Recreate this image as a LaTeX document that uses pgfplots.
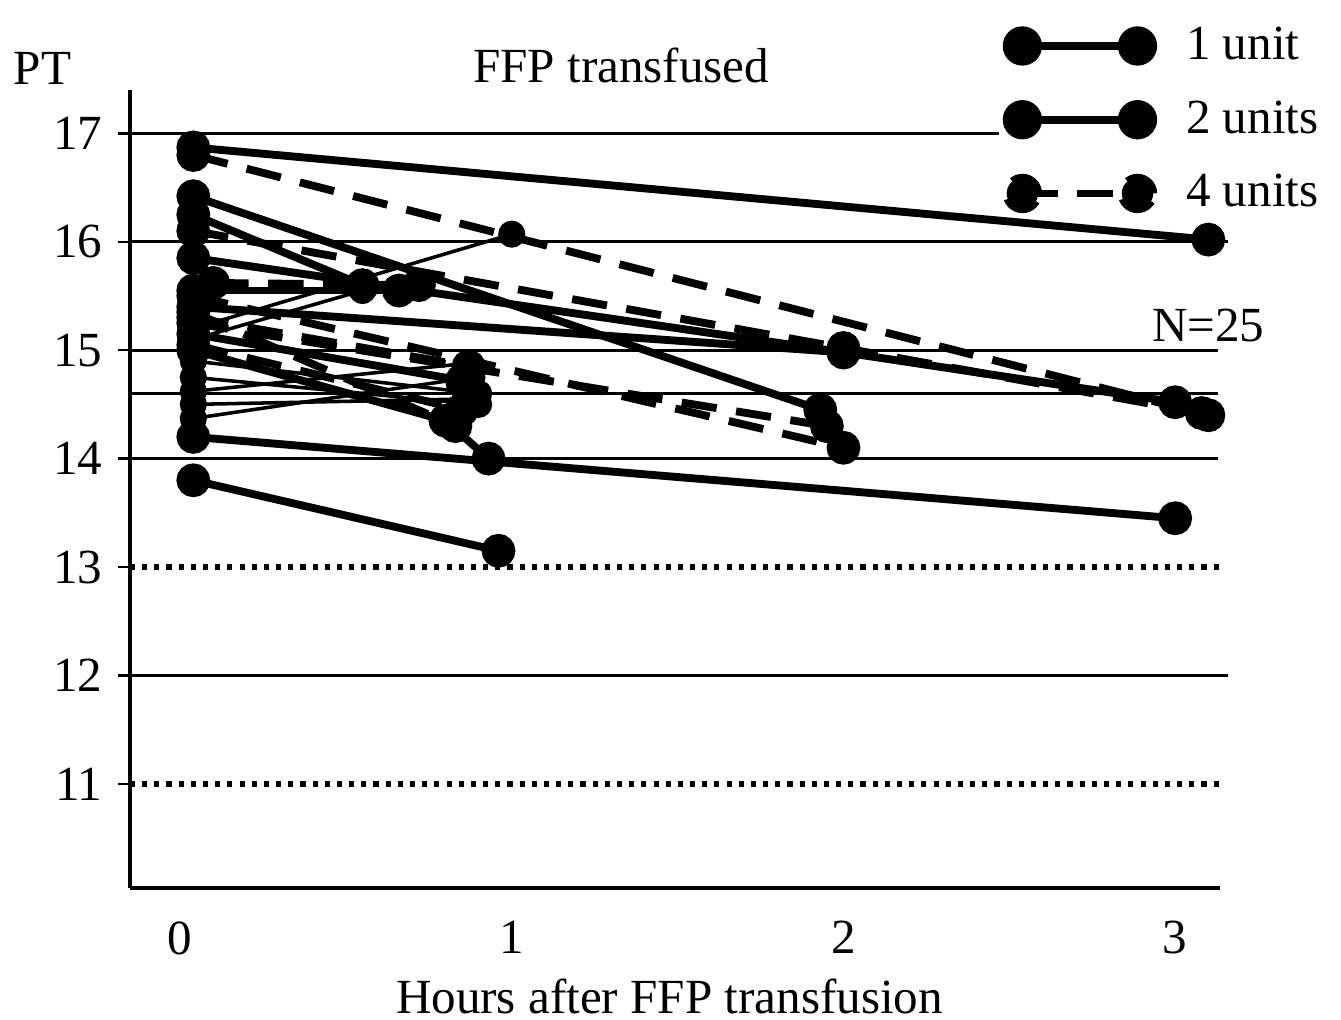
\documentclass[border=0pt]{standalone}
\usepackage{pgfplots}
\pgfplotsset{compat=1.18}
\usepackage{fontspec}
\setmainfont{Liberation Serif}

\pgfplotsset{
  solidthick/.style={black, line width=2pt, mark=*, mark size=3.3pt},
  solidthin/.style={black, line width=0.9pt, mark=*, mark size=3pt},
  dashthick/.style={black, line width=2pt, dash pattern=on 9pt off 5pt, mark=*, mark size=3.3pt, mark options={solid}},
}

\begin{document}
\begin{tikzpicture}
\path[use as bounding box] (-1.163,-1.181) rectangle (10.837,7.946);
\begin{axis}[
    scale only axis,
    width=9.754cm, height=7.141cm,
    xmin=-0.151, xmax=3.135,
    ymin=10.04, ymax=17.4,
    axis x line=bottom, axis y line=left,
    axis line style={black, line width=0.8pt, -},
    xtick={0,1,2,3}, ytick={11,12,13,14,15,16,17},
    x tick style={draw=none},
    y tick style={black, line width=0.6pt},
    major tick length=3pt,
    tick align=outside,
    /pgf/number format/assume math mode=true,
    tick label style={font=\fontsize{12.5}{14}\selectfont},
    xticklabel style={yshift=-2pt},
    yticklabel style={xshift=-0.5pt},
    xlabel={Hours after FFP transfusion},
    xlabel style={font=\fontsize{12.5}{14}\selectfont, at={(axis description cs:0.495,-0.136)}, anchor=center},
    clip=false,
    legend style={draw=none, fill=none, at={(rel axis cs:0.80,1.09)}, anchor=north west,
                  font=\fontsize{12.5}{14}\selectfont, row sep=5pt, inner sep=0pt},
    legend cell align=left,
    legend image code/.code={
      \draw[#1, mark=none] (0cm,0cm) -- (1.03cm,0cm);
      \fill[black] (0cm,0cm) circle (4pt);
      \fill[black] (1.03cm,0cm) circle (4pt);
      \path (1.36cm,0cm);
    },
]
% reference lines
\draw[black, line width=0.7pt] (axis cs:-0.151,17) -- (axis cs:2.47,17);
\draw[black, line width=0.7pt] (axis cs:-0.151,16) -- (axis cs:3.16,16);
\draw[black, line width=0.7pt] (axis cs:-0.151,15) -- (axis cs:3.13,15);
\draw[black, line width=0.7pt] (axis cs:-0.151,14.6) -- (axis cs:3.13,14.6);
\draw[black, line width=0.7pt] (axis cs:-0.151,14) -- (axis cs:3.13,14);
\draw[black, line width=0.7pt] (axis cs:-0.151,12) -- (axis cs:3.16,12);
\draw[black, line width=1.4pt, dash pattern=on 1.3pt off 1.8pt] (axis cs:-0.151,13) -- (axis cs:3.15,13);
\draw[black, line width=1.4pt, dash pattern=on 1.3pt off 1.8pt] (axis cs:-0.151,11) -- (axis cs:3.15,11);

\addlegendimage{solidthick}
\addlegendentry{1 unit}
\addlegendimage{solidthick}
\addlegendentry{2 units}
\addlegendimage{dashthick}
\addlegendentry{4 units}

% patients
\addplot[solidthick] coordinates {(0.04,16.87) (3.1,16.02)};
\addplot[dashthick]  coordinates {(0.04,16.8) (3.1,14.4)};
\addplot[solidthick] coordinates {(0.04,16.42) (1.93,14.45)};
\addplot[solidthick] coordinates {(0.04,15.85) (2.0,14.98) (3.0,14.52)};
\addplot[dashthick]  coordinates {(0.04,16.1) (2.0,15.02) (3.08,14.42)};
\addplot[solidthin]  coordinates {(0.04,15.2) (1.0,16.07)};
\addplot[solidthin]  coordinates {(0.04,15.1) (0.55,15.55)};
\addplot[solidthick] coordinates {(0.04,15.4) (2.0,14.98)};
\addplot[dashthick]  coordinates {(0.04,15.5) (2.0,14.1)};
\addplot[dashthick]  coordinates {(0.04,15.25) (1.95,14.3)};
\addplot[dashthick]  coordinates {(0.04,15.3) (0.87,14.85)};
\addplot[dashthick]  coordinates {(0.04,15.35) (0.83,14.3)};
\addplot[solidthick] coordinates {(0.04,15.0) (0.8,14.35) (0.93,14.0)};
\addplot[solidthin]  coordinates {(0.04,14.62) (0.87,14.88)};
\addplot[solidthin]  coordinates {(0.04,14.5) (0.86,14.55)};
\addplot[solidthin]  coordinates {(0.04,14.37) (0.88,14.75)};
\addplot[solidthick] coordinates {(0.04,14.2) (3.0,13.45)};
\addplot[solidthick] coordinates {(0.04,13.8) (0.96,13.15)};
\addplot[solidthick] coordinates {(0.04,15.55) (0.66,15.55)};
\addplot[dashthick]  coordinates {(0.1,15.62) (0.72,15.6)};
\addplot[solidthin]  coordinates {(0.04,14.9) (0.9,14.6)};
\addplot[solidthick] coordinates {(0.04,15.15) (0.85,14.72)};
\addplot[solidthick] coordinates {(0.04,16.25) (0.55,15.6)};
\addplot[solidthin]  coordinates {(0.04,14.75) (0.9,14.5)};
\addplot[dashthick]  coordinates {(0.04,15.05) (0.85,14.45)};

\node[font=\fontsize{12.5}{14}\selectfont] at (axis cs:-0.415,17.6) {PT};
\node[font=\fontsize{12.5}{14}\selectfont] at (axis cs:1.33,17.63) {FFP transfused};
\node[font=\fontsize{12.5}{14}\selectfont] at (axis cs:3.1,15.23) {N=25};
\end{axis}
\end{tikzpicture}
\end{document}
